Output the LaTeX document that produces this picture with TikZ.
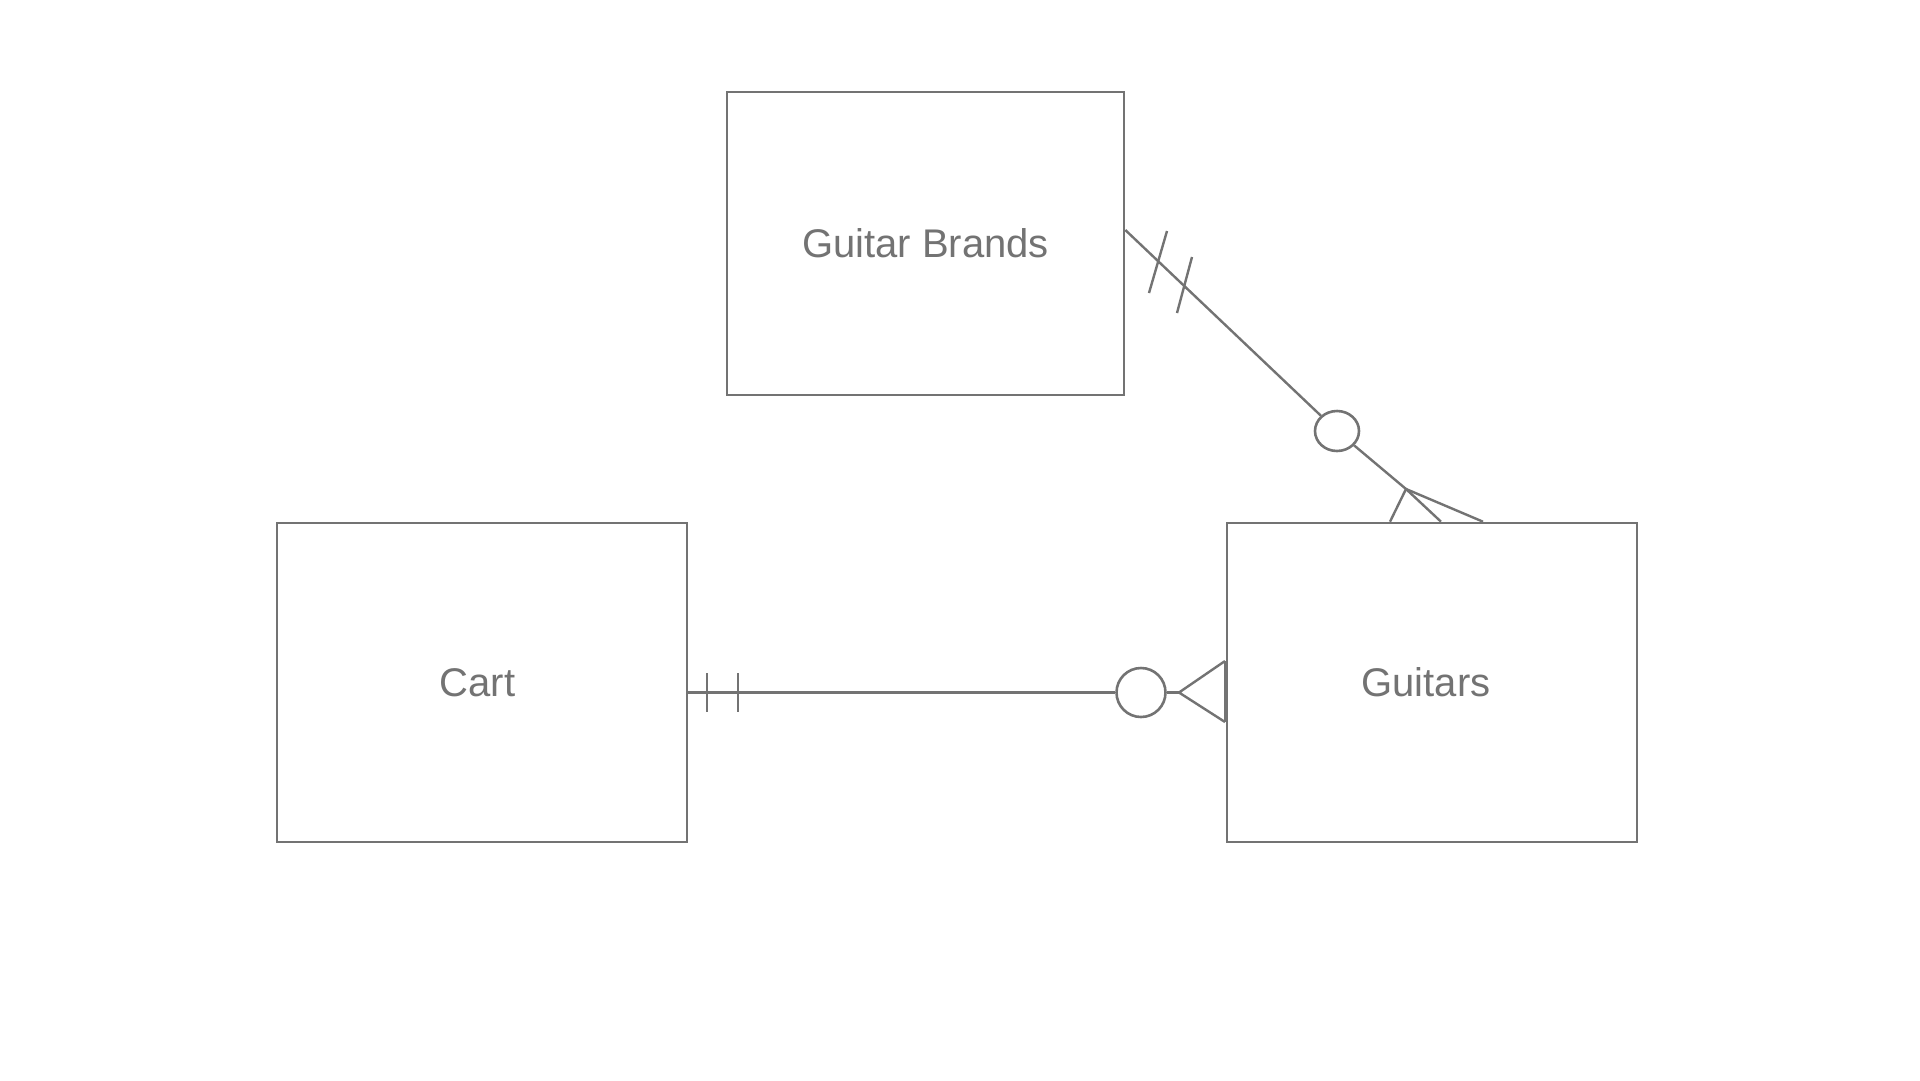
\documentclass[tikz,border=0pt]{standalone}
\usepackage{fontspec}
\setmainfont{Liberation Sans}
\usetikzlibrary{shapes.geometric}
\definecolor{ink}{HTML}{737373}
\tikzset{
  entity/.style={draw=ink, rectangle, inner sep=0pt, text=ink,
    font=\fontsize{40}{48}\selectfont, minimum width=410pt, minimum height=319pt},
  optring/.style={draw=ink, ellipse, fill=white, inner sep=0pt},
  conn/.style={draw=ink, line width=2.4pt}
}
\begin{document}
\begin{tikzpicture}[x=1pt,y=-1pt, line width=2.6pt]
\useasboundingbox[fill=white] (0,0) rectangle (1920,1080);

\node[entity, minimum width=397pt, minimum height=303pt] (gb) at (925.5,243.5) {Guitar Brands};
\node[entity] (cart) at (482,682.5) {Cart\hspace*{9pt}};
\node[entity] (gu) at (1432,682.5) {Guitars\hspace*{12pt}};

% Guitar Brands -- Guitars (one and only one to zero or many)
\coordinate (d0) at ([yshift=13.5pt]gb.east);
\coordinate (v1) at (1406,489);
\coordinate (f1) at ([xshift=9pt]gu.north);
\coordinate (l1) at ([xshift=-42pt]gu.north);
\coordinate (r1) at ([xshift=51pt]gu.north);
\node[optring, minimum width=44pt, minimum height=40pt] (c1) at (1337,431) {};
\draw[conn] (d0) -- (c1);
\draw[conn] (c1) -- (v1) -- (f1);
\draw[conn] (l1) -- (v1) -- (r1);
\draw[conn] (1167,231) -- (1149,293);
\draw[conn] (1192,257) -- (1177,313);

% Cart -- Guitars
\coordinate (h0) at ([yshift=-10pt]cart.east);
\node[optring, minimum width=49pt, minimum height=49pt] (c2) at (1141,692.5) {};
\coordinate (v2) at (1179,692.5);
\coordinate (a2) at (1225,661);
\coordinate (b2) at (1225,722);
\draw[conn] (h0) -- (c2);
\draw[conn] (c2) -- (v2);
\draw[conn] (a2) -- (v2) -- (b2);
\draw[conn] (a2) -- (b2);
\draw[conn] (707,673) -- (707,712);
\draw[conn] (738,673) -- (738,712);
\end{tikzpicture}
\end{document}
